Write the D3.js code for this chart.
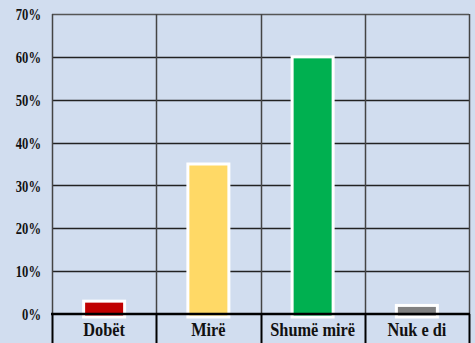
<!DOCTYPE html>
<html><head><meta charset="utf-8">
<script src="https://cdn.jsdelivr.net/npm/d3@7"></script>
<style>html,body{margin:0;padding:0;background:#d1ddef;overflow:hidden}</style>
</head><body>
<svg id="c" width="475" height="343"></svg>
<script>
const categories = ["Dobët", "Mirë", "Shumë mirë", "Nuk e di"];
const values = [3, 35, 60, 2];
const colors = ["#c00000", "#ffd966", "#00b050", "#808080"];
const yTicks = [0, 10, 20, 30, 40, 50, 60, 70];

const svg = d3.select("#c");
const W = 475, H = 343;
const m = {left: 52, right: 6, top: 14, bottom: 29};
const x = d3.scaleBand().domain(categories).range([m.left, W - m.right]).padding(0);
const y = d3.scaleLinear().domain([0, 70]).range([H - m.bottom, m.top]);

svg.append("rect").attr("width", W).attr("height", H).attr("fill", "#d1ddef");

// horizontal gridlines
svg.append("g").selectAll("line").data(yTicks.filter(d => d > 0)).join("line")
  .attr("x1", m.left).attr("x2", W - m.right)
  .attr("y1", d => Math.round(y(d)) + 0.5).attr("y2", d => Math.round(y(d)) + 0.5)
  .attr("stroke", d => d === 70 ? "#555" : "#222").attr("stroke-width", 1.3);

// vertical gridlines (plot area)
const bounds = categories.map(c => x(c)).concat([x.range()[1]]);
svg.append("g").selectAll("line").data(bounds).join("line")
  .attr("x1", d => Math.round(d) + 0.5).attr("x2", d => Math.round(d) + 0.5)
  .attr("y1", y(70)).attr("y2", y(0))
  .attr("stroke", "#444").attr("stroke-width", 1.5);

// bars
const bw = 41;
svg.append("g").selectAll("rect").data(categories).join("rect")
  .attr("x", d => x(d) + x.bandwidth() / 2 - bw / 2)
  .attr("width", bw)
  .attr("y", (d, i) => y(values[i]))
  .attr("height", (d, i) => y(0) - y(values[i]) + 3)
  .attr("fill", (d, i) => colors[i])
  .attr("stroke", "#fff").attr("stroke-width", 3);

// label area separators
svg.append("g").selectAll("line").data(bounds).join("line")
  .attr("x1", d => Math.round(d) + 0.5).attr("x2", d => Math.round(d) + 0.5)
  .attr("y1", y(0)).attr("y2", H)
  .attr("stroke", "#000").attr("stroke-width", 2);

// axis line
svg.append("line").attr("x1", m.left - 1).attr("x2", W - m.right + 1)
  .attr("y1", y(0)).attr("y2", y(0)).attr("stroke", "#000").attr("stroke-width", 2.5);

// y tick labels
const yl = svg.append("g").selectAll("text").data(yTicks).join("text")
  .attr("transform", d => `translate(41,${y(d)}) scale(0.72,1)`)
  .attr("text-anchor", "end").attr("dy", "0.35em")
  .attr("font-family", "'Liberation Serif','Times New Roman',serif")
  .attr("font-weight", "bold").attr("font-size", 17.5).attr("fill", "#111")
  .text(d => d + "%");

// category labels
svg.append("g").selectAll("text").data(categories).join("text")
  .attr("transform", d => `translate(${x(d) + x.bandwidth() / 2},336) scale(0.86,1)`)
  .attr("text-anchor", "middle")
  .attr("font-family", "'Liberation Serif','Times New Roman',serif")
  .attr("font-weight", "bold").attr("font-size", 19).attr("fill", "#111")
  .text(d => d);
</script>
</body></html>
